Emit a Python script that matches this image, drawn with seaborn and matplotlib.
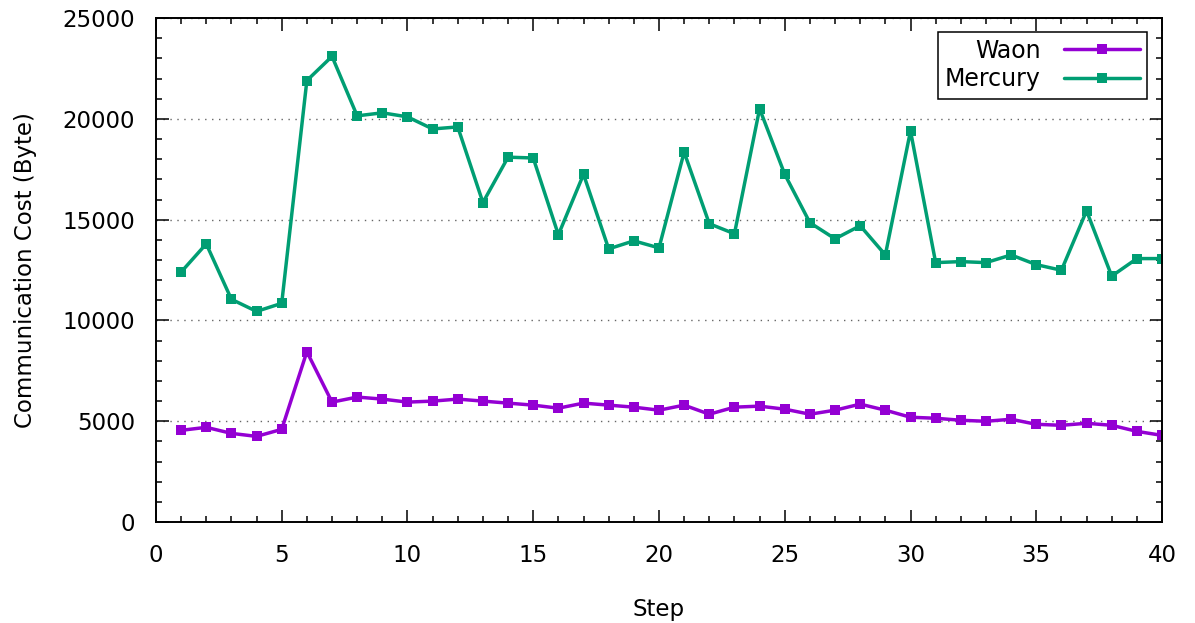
import matplotlib
matplotlib.use("Agg")
import matplotlib.pyplot as plt
import seaborn as sns
import pandas as pd
import numpy as np
from matplotlib.ticker import MultipleLocator

steps = list(range(1, 41))
waon = [4550, 4700, 4400, 4250, 4600, 8450, 5950, 6200, 6100, 5950,
        6000, 6100, 6000, 5900, 5800, 5650, 5900, 5800, 5700, 5550,
        5800, 5350, 5700, 5750, 5600, 5350, 5550, 5850, 5550, 5200,
        5150, 5050, 5000, 5100, 4850, 4800, 4900, 4800, 4500, 4300]
mercury = [12400, 13800, 11050, 10450, 10850, 21900, 23100, 20150, 20300, 20100,
           19500, 19600, 15850, 18100, 18060, 14250, 17250, 13550, 13950, 13600,
           18350, 14800, 14300, 20500, 17250, 14850, 14050, 14700, 13250, 19400,
           12870, 12920, 12870, 13250, 12770, 12490, 15440, 12200, 13070, 13070]
series_names = ["Waon", "Mercury"]
colors = ["#9400D3", "#009E73"]

df = pd.DataFrame({
    "Step": steps * 2,
    "Cost": waon + mercury,
    "Series": [series_names[0]] * len(steps) + [series_names[1]] * len(steps),
})

sns.set_style("white")
plt.rcParams["font.family"] = ["DejaVu Sans"]
plt.rcParams["text.color"] = "black"
plt.rcParams["axes.labelcolor"] = "black"
plt.rcParams["xtick.color"] = "black"
plt.rcParams["ytick.color"] = "black"

FS = 16.5

fig = plt.figure(figsize=(11.95, 6.23), dpi=100)
ax = fig.add_axes([0.1305, 0.162, 0.8419, 0.809])

sns.lineplot(data=df, x="Step", y="Cost", hue="Series", hue_order=series_names,
             palette=colors, marker="s", markersize=7, markeredgewidth=0,
             linewidth=2.5, dashes=False, ax=ax, legend=True)

ax.set_xlim(0, 40)
ax.set_ylim(0, 25000)
ax.xaxis.set_major_locator(MultipleLocator(5))
ax.xaxis.set_minor_locator(MultipleLocator(1))
ax.yaxis.set_major_locator(MultipleLocator(5000))
ax.yaxis.set_minor_locator(MultipleLocator(1000))
ax.tick_params(which="both", direction="in", top=True, right=True, bottom=True, left=True,
               color="black", labelcolor="black")
ax.tick_params(which="major", length=9, width=1.1, labelsize=FS)
ax.tick_params(axis="x", which="major", pad=16)
ax.tick_params(axis="y", which="major", pad=15)
ax.tick_params(which="minor", length=4.5, width=1.1)
for s in ax.spines.values():
    s.set_color("black")
    s.set_linewidth(1.4)

ax.yaxis.grid(True, which="major", linestyle=(0, (1, 4)), color="#666666", linewidth=1.0)
ax.xaxis.grid(False)

ax.set_xlabel("Step", fontsize=FS, labelpad=22, color="black")
ax.set_ylabel("Communication Cost (Byte)", fontsize=FS, labelpad=18, color="black")

handles, labels = ax.get_legend_handles_labels()
leg = ax.legend(handles, labels, loc="upper right", bbox_to_anchor=(0.985, 0.973),
                markerfirst=False, fontsize=FS + 0.5, frameon=True, fancybox=False,
                edgecolor="black", handlelength=3.2, borderpad=0.3,
                labelspacing=0.2, handletextpad=1.0, borderaxespad=0)
leg.get_frame().set_linewidth(1.1)
leg.get_frame().set_alpha(1)
for t in leg.get_texts():
    t.set_color("black")

fig.savefig("out.png", dpi=100)
